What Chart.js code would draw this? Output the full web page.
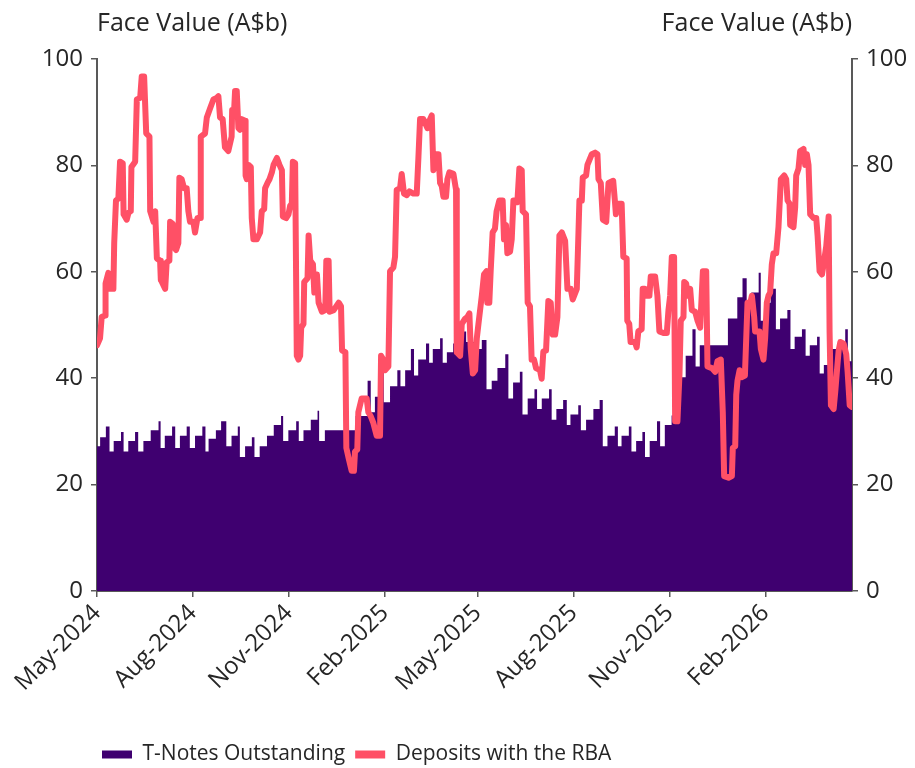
<!DOCTYPE html>
<html>
<head>
<meta charset="utf-8">
<script src="https://cdn.jsdelivr.net/npm/chart.js@4.4.1/dist/chart.umd.min.js"></script>
<style>
  body { margin: 0; background: #fff; }
</style>
</head>
<body>
<canvas id="chart" width="915" height="768"></canvas>
<script>
// x axis is days since 1 May 2024
const tickDays = [0, 92, 184, 276, 365, 457, 549, 641];
const tickLabels = ['May-2024', 'Aug-2024', 'Nov-2024', 'Feb-2025', 'May-2025', 'Aug-2025', 'Nov-2025', 'Feb-2026'];
const lastDay = 724;
const axisTitle = 'Face Value (A$b)';

// T-Notes outstanding, step levels (day the level starts, A$b)
const tnoteDays = [0, 3, 8.5, 12, 16, 23, 25.5, 30, 36.5, 39.5, 44.5, 51.5, 59, 61, 65, 72, 75, 79.5, 86, 89,
  94, 101, 104, 107, 114, 119, 124, 129, 135, 137, 142, 148.5, 151, 156, 163, 169.5, 176.5, 178.5, 183.5, 191,
  193.5, 198, 205, 211.5, 213, 218.5, 248, 259.5, 262.5, 266.5, 272, 275, 281, 288, 291, 295.5, 301, 304, 308, 315.5,
  318.5, 322, 329, 331.5, 335.5, 341.5, 350.5, 354, 364, 369, 373.5, 378.5, 384, 391.5, 394.5, 399, 405.5, 408, 413, 419.5,
  422, 426.5, 433.5, 436, 440.5, 447, 450.5, 454, 461.5, 464, 469, 476, 482, 485, 489.5, 496.5, 499.5, 503, 510, 512.5,
  517, 523, 525.5, 530, 537, 540, 544.5, 551, 558, 564.5, 571, 574, 578, 605, 614, 619, 623, 627.5, 634.5, 636.5,
  640.5, 646, 651, 655, 662, 665, 669, 676, 679.5, 683.5, 690.5, 693, 697, 702, 717.5, 720, 724];
const tnoteValues = [27.2, 28.9, 30.9, 26.2, 28.2, 29.9, 26.2, 28.2, 29.9, 26.2, 28.2, 30.2, 31.9, 26.9, 29.2, 30.9, 26.9, 29.2, 30.9, 26.9,
  29.2, 30.9, 26.2, 28.6, 30.2, 31.9, 27.2, 29.2, 30.9, 25.2, 27.2, 28.9, 25.2, 27.2, 29.2, 31.2, 32.9, 28.2, 30.2, 31.9,
  28.2, 30.2, 32.2, 33.9, 28.2, 30.2, 32.9, 39.5, 33.6, 36.5, 42.2, 35.5, 38.5, 41.5, 38.5, 41.5, 45.5, 40.5, 43.5, 46.5,
  42.9, 45.5, 47.5, 42.9, 44.9, 46.5, 48.8, 46.8, 45.5, 47.2, 37.9, 39.5, 41.9, 44.5, 36.2, 39.2, 41.2, 33.2, 36.2, 37.9,
  34.2, 36.2, 37.9, 32.2, 34.2, 35.9, 31.2, 33.2, 34.9, 30.2, 32.2, 34.2, 35.9, 27.2, 29.2, 30.9, 27.2, 29.2, 30.9, 26.2,
  28.2, 29.9, 25.2, 28.2, 31.9, 27.2, 31.2, 33, 40.2, 44.2, 49.2, 42.2, 46.2, 51.2, 55.2, 58.8, 54.2, 56.1, 59.8, 50.8,
  54.2, 56.8, 49.2, 51.2, 52.8, 45.5, 47.8, 49.2, 44.2, 46.2, 47.8, 40.9, 42.5, 45.5, 49.2, 43.2, 43.2];

// Deposits with the RBA (day, A$b)
const depositDays = [0, 2.9, 4.5, 7.7, 8.2, 10.9, 12.5, 15.7, 16.5, 18.2, 20.5, 22.1, 24.7, 25.5, 28.5, 30.2, 32.4, 33, 36.6, 38.2,
  41.4, 42.9, 45.2, 47.2, 50.3, 51, 54.2, 55.8, 57.4, 60.5, 61.2, 65.4, 66.8, 69.4, 70.1, 72.6, 73.2, 75.8, 78, 79,
  81.2, 83.5, 86, 87.6, 89.2, 92.4, 94, 96.3, 98.8, 99.5, 103.6, 105.3, 108.4, 111.6, 114.8, 116.4, 118, 120.5, 122.7, 125.9,
  129.1, 129.6, 131.4, 132.4, 134, 135.6, 137.2, 138.8, 142, 142.5, 143.6, 145.2, 147.5, 148.4, 150, 153.2, 156.4, 158, 160.3, 161.2,
  163.5, 165.4, 167.7, 169.3, 172.5, 175, 177.3, 178.2, 181.4, 183.6, 185.2, 186.8, 187.8, 190, 191.6, 193.2, 194.8, 195.8, 198, 198.7,
  201.9, 202.9, 204.5, 207.1, 208.4, 210.9, 212.5, 215.7, 218.9, 219.9, 222.1, 223.1, 227, 231.8, 234, 235, 238.2, 239.1, 241.4, 244.2,
  246.4, 247.4, 249.6, 250.6, 253.8, 258.6, 260.2, 262.4, 265, 268.2, 271.4, 272.4, 274.6, 276.2, 279.4, 281, 284.2, 285.8, 287.4, 290.6,
  292.2, 294.4, 297, 299.6, 303.4, 306.6, 308.2, 309.8, 313, 316.8, 319.4, 321, 322.6, 325.1, 327.4, 329, 330.6, 332.2, 334.7, 336,
  337.9, 341.8, 344.3, 345, 348.2, 349.8, 353, 355.2, 357.1, 358.4, 360.4, 362.6, 364.2, 365.8, 369, 371.1, 373.6, 374.3, 376.2, 377.5,
  379.4, 381.6, 383.2, 385.8, 389, 390.3, 392.2, 393.5, 396.1, 397.7, 399.3, 401.8, 403.1, 405, 407.3, 408.2, 411.4, 413, 415.2, 416.8,
  419.1, 421, 424.8, 426.4, 428, 430.6, 432.8, 435.1, 437, 439.3, 441.5, 443.4, 445.7, 448.9, 451.1, 454.3, 456.2, 460.1, 462.6, 464.9,
  465.8, 469, 470.3, 474.5, 477.7, 479.9, 480.9, 483.1, 485.1, 488.3, 490.5, 495, 496.6, 497.6, 498.9, 503.1, 504.7, 507.9, 508.5, 510.4,
  511.7, 515.9, 517.5, 519.1, 522.3, 523.3, 525.5, 526.5, 529.7, 531, 535.2, 537.4, 539.3, 543.2, 546.4, 548, 549.6, 551.2, 553.4, 554.4,
  556.6, 558.6, 559.8, 562.4, 563.1, 565, 566.3, 568.8, 570.4, 573.6, 575.9, 578.4, 581, 584.2, 585.4, 589.6, 592.8, 595, 598.2, 600.1,
  601.4, 605.6, 608.8, 609.7, 612, 613, 614.2, 616.2, 618.4, 621.3, 623.8, 625.7, 628, 630.2, 631.1, 635.3, 636.6, 639.1, 640.7, 642.3,
  643.9, 645.5, 647.1, 648.7, 651.3, 653.5, 655.8, 659, 660.9, 662.2, 664.1, 664.7, 667.9, 669.5, 670.5, 672.7, 674.3, 677.5, 679.1, 680.7,
  682.3, 683.9, 687.1, 689.7, 691, 692.9, 695.2, 696.8, 699.3, 701.6, 702.5, 703.8, 706.4, 708, 709.6, 711.2, 712.8, 716, 718.5, 719.8,
  721.8, 724];
const depositValues = [46.2, 47.5, 51.5, 51.8, 57.8, 59.8, 56.8, 56.8, 65.4, 73.4, 73.8, 80.7, 80.4, 70.8, 69.8, 71.1, 71.4, 79.7, 80.7, 92.4,
  92.7, 96.7, 96.7, 86, 85.4, 71.4, 69.4, 71.4, 62.5, 62.1, 58.5, 56.8, 61.8, 62.1, 69.4, 69, 64.8, 64.1, 65.4, 77.7,
  77.4, 75.7, 75.7, 71.4, 69.4, 69.4, 67.4, 70.1, 70.1, 85.4, 86, 89, 90.7, 92.4, 92.7, 93, 89, 88.7, 83.4, 82.7,
  85.4, 90.4, 90, 94, 94, 87, 86.7, 88.7, 88.4, 78.1, 77.4, 80.1, 79.7, 70.1, 66.1, 66.1, 67.4, 71.4, 71.8, 75.7,
  76.7, 77.4, 78.7, 80.1, 81.4, 80.1, 79.1, 70.4, 70.1, 70.8, 72.4, 72.8, 80.7, 80.4, 44.2, 43.5, 44.2, 49.5, 50.2, 58.1,
  58.8, 66.8, 62.1, 61.4, 56.1, 59.5, 54.2, 52.5, 52.8, 62.1, 62.1, 52.5, 52.8, 54.2, 53.5, 45.2, 44.9, 26.9, 24.9, 22.6,
  22.6, 26.2, 26.6, 33.6, 36.2, 36.2, 33.6, 32.9, 31.6, 29.2, 29.2, 44.2, 43.5, 41.5, 42.2, 60.1, 60.8, 62.8, 75.4, 75.7,
  78.4, 74.7, 74.4, 75.1, 74.7, 74.7, 81.4, 88.7, 88.7, 87, 88.7, 89.4, 79.1, 82.1, 82.1, 76.7, 76.1, 74.1, 74.1, 77.4,
  78.7, 78.4, 75.4, 44.9, 44.2, 50.2, 51.2, 51.5, 52.2, 45.5, 40.9, 41.5, 47.5, 50.2, 55.5, 59.5, 60.1, 54.2, 54.2, 60.1,
  67.4, 68.1, 71.4, 73.4, 73.4, 66.1, 68.8, 63.5, 63.8, 66.1, 73.4, 73.4, 73.1, 79.4, 79.1, 71.4, 70.8, 54.2, 53.5, 43.5,
  43.5, 41.9, 41.5, 39.9, 45, 45.2, 54.5, 54.2, 48.2, 48.2, 51.5, 66.8, 67.4, 65.8, 56.8, 56.8, 54.8, 56.8, 73.4, 73.4,
  77.7, 78.1, 80.1, 82.1, 82.4, 82.1, 77.4, 76.7, 69.8, 69.4, 76.7, 77.1, 73.4, 70.8, 72.8, 72.8, 62.8, 62.5, 50.8, 50.2,
  46.8, 46.8, 45.8, 48.8, 49.2, 56.8, 56.8, 55.5, 55.5, 59.1, 59.1, 55.5, 48.8, 48.5, 48.5, 52.8, 55.5, 62.8, 62.8, 31.9,
  31.9, 40.9, 50.8, 51.5, 58.1, 57.8, 55.5, 56.8, 52.8, 52.5, 50.8, 49.5, 60.1, 60.1, 42.2, 41.9, 41.2, 43.2, 43.5, 33.6,
  21.6, 21.3, 21.6, 26.9, 27.2, 36.9, 39.5, 41.5, 40.2, 40.5, 54.2, 53.5, 55.5, 51.5, 48.8, 48.8, 45.5, 43.5, 47.5, 54.2,
  55.5, 56.1, 61.4, 63.5, 63.5, 68.4, 77.4, 78.1, 77.4, 73.4, 72.8, 68.8, 68.4, 72.1, 78.1, 79.4, 82.7, 83.1, 80.1, 82.1,
  80.1, 70.8, 70.1, 70.1, 66.8, 60.1, 59.5, 61.4, 64.8, 70.4, 48.8, 34.9, 34.2, 37.6, 41.5, 45.2, 46.8, 46.5, 44.5, 41.2,
  34.9, 34.6];

const purple = '#3f0070';
const coral = '#ff5066';
const axisColor = '#595959';
const textColor = '#262626';

Chart.defaults.font.family = '"Open Sans", sans-serif';
Chart.defaults.font.size = 22;
Chart.defaults.color = textColor;

const toPoints = (days, values) => days.map((d, i) => ({ x: d, y: values[i] }));

// "Face Value (A$b)" sits flat above each axis; legend nudged to line up under the axis
const axisTitles = {
  id: 'axisTitles',
  beforeDraw(chart) {
    chart.legend.left = chart.chartArea.left - 5;
  },
  afterDraw(chart) {
    const { ctx, chartArea } = chart;
    ctx.save();
    ctx.font = '25px "Open Sans", sans-serif';
    ctx.fillStyle = textColor;
    ctx.textBaseline = 'alphabetic';
    ctx.textAlign = 'left';
    ctx.fillText(axisTitle, chartArea.left, 31);
    ctx.textAlign = 'right';
    ctx.fillText(axisTitle, chartArea.right, 31);
    ctx.restore();
  }
};

const valueAxis = (position, width) => ({
  position: position,
  min: 0,
  max: 100,
  afterFit: (scale) => { scale.width = width; },
  border: { display: true, color: axisColor, width: 2 },
  grid: { display: true, drawOnChartArea: false, drawTicks: true, tickLength: 6, color: axisColor, lineWidth: 1.5 },
  ticks: { stepSize: 20, padding: 8, color: textColor, font: { size: 24 } }
});

new Chart(document.getElementById('chart'), {
  type: 'line',
  data: {
    datasets: [
      {
        label: 'T-Notes Outstanding',
        data: toPoints(tnoteDays, tnoteValues),
        stepped: true,
        fill: 'origin',
        backgroundColor: purple,
        borderColor: purple,
        borderWidth: 0,
        pointRadius: 0,
        order: 2
      },
      {
        label: 'Deposits with the RBA',
        data: toPoints(depositDays, depositValues),
        borderColor: coral,
        backgroundColor: coral,
        borderWidth: 6,
        borderJoinStyle: 'round',
        borderCapStyle: 'round',
        tension: 0,
        pointRadius: 0,
        fill: false,
        order: 1
      }
    ]
  },
  options: {
    responsive: false,
    animation: false,
    layout: { padding: { top: 59, bottom: -7, left: 0, right: 0 } },
    scales: {
      x: {
        type: 'linear',
        min: 0,
        max: lastDay,
        afterBuildTicks: (scale) => { scale.ticks = tickDays.map(v => ({ value: v })); },
        afterFit: (scale) => { scale.height = 143; },
        border: { display: true, color: axisColor, width: 2 },
        grid: { display: true, drawOnChartArea: false, drawTicks: true, tickLength: 6, color: axisColor, lineWidth: 1.5 },
        ticks: {
          autoSkip: false,
          minRotation: 45,
          maxRotation: 45,
          padding: 2,
          color: textColor,
          font: { size: 24 },
          callback: (value, index) => tickLabels[index]
        }
      },
      y: valueAxis('left', 97),
      y2: valueAxis('right', 63)
    },
    plugins: {
      legend: {
        position: 'bottom',
        fullSize: false,
        align: 'start',
        reverse: true,
        labels: {
          boxWidth: 30,
          boxHeight: 8,
          padding: 10,
          color: textColor,
          font: { size: 21, lineHeight: 1 },
          generateLabels: (chart) => Chart.defaults.plugins.legend.labels.generateLabels(chart)
            .map(item => Object.assign(item, { lineWidth: 0 }))
        }
      },
      tooltip: { enabled: false }
    }
  },
  plugins: [axisTitles]
});
</script>
</body>
</html>
